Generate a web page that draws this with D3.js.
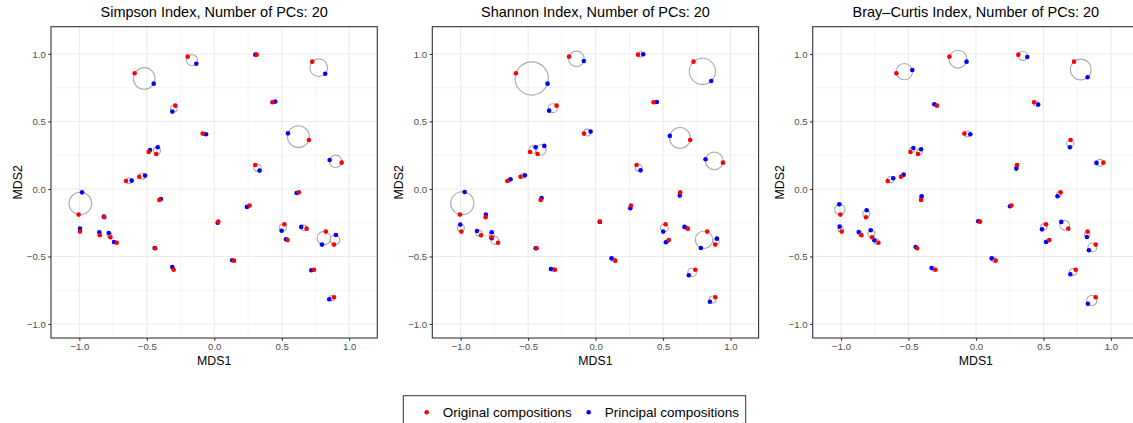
<!DOCTYPE html>
<html>
<head>
<meta charset="utf-8">
<script src="https://cdn.jsdelivr.net/npm/d3@7"></script>
<style>
  body { margin: 0; background: #fff; }
  svg { display: block; font-family: "Liberation Sans", Arial, sans-serif; }
</style>
</head>
<body>
<script>
var panelTitles = ["Simpson Index, Number of PCs: 20",
                   "Shannon Index, Number of PCs: 20",
                   "Bray\u2013Curtis Index, Number of PCs: 20"];

var xTicks = [-1.0, -0.5, 0.0, 0.5, 1.0];
var yTicks = [-1.0, -0.5, 0.0, 0.5, 1.0];
var minorTicks = [-0.75, -0.25, 0.25, 0.75];

// original compositions (same in every panel)
var original = [
  [-0.590, 0.857], [-0.197, 0.980], [0.314, 0.995], [0.726, 0.943], [-0.289, 0.617],
  [0.430, 0.642], [-0.086, 0.410], [0.701, 0.363], [0.944, 0.195], [-0.486, 0.274],
  [-0.430, 0.259], [0.304, 0.178], [-0.654, 0.059], [-0.556, 0.091], [0.627, -0.025],
  [-1.005, -0.190], [-0.815, -0.210], [-0.995, -0.316], [-0.849, -0.343], [-0.770, -0.358],
  [-0.723, -0.398], [-0.407, -0.081], [-0.437, -0.439], [-0.301, -0.598], [0.030, -0.242],
  [0.146, -0.531], [0.262, -0.123], [0.519, -0.262], [0.684, -0.294], [0.543, -0.378],
  [0.827, -0.316], [0.887, -0.412], [0.739, -0.598], [0.887, -0.802]
];

// principal compositions, one list per index
var simpson = [
  [-0.449, 0.780], [-0.133, 0.928], [0.304, 0.995], [0.822, 0.854], [-0.311, 0.573],
  [0.452, 0.647], [-0.061, 0.405], [0.546, 0.412], [0.855, 0.215], [-0.476, 0.289],
  [-0.419, 0.309], [0.336, 0.136], [-0.612, 0.062], [-0.513, 0.099], [0.610, -0.030],
  [-0.980, -0.025], [-0.818, -0.205], [-0.995, -0.294], [-0.852, -0.321], [-0.782, -0.326],
  [-0.743, -0.393], [-0.395, -0.074], [-0.442, -0.437], [-0.311, -0.578], [0.025, -0.250],
  [0.133, -0.528], [0.242, -0.133], [0.499, -0.309], [0.644, -0.281], [0.531, -0.373],
  [0.798, -0.412], [0.901, -0.341], [0.719, -0.602], [0.852, -0.817]
];

var shannon = [
  [-0.356, 0.780], [-0.087, 0.948], [0.353, 0.998], [0.857, 0.800], [-0.344, 0.580],
  [0.454, 0.644], [-0.037, 0.425], [0.550, 0.393], [0.815, 0.220], [-0.444, 0.309],
  [-0.380, 0.319], [0.333, 0.138], [-0.630, 0.072], [-0.524, 0.101], [0.624, -0.049],
  [-0.970, -0.022], [-0.813, -0.190], [-1.003, -0.264], [-0.879, -0.311], [-0.770, -0.321],
  [-0.770, -0.365], [-0.400, -0.067], [-0.444, -0.439], [-0.331, -0.593], [0.032, -0.244],
  [0.118, -0.514], [0.257, -0.143], [0.501, -0.316], [0.659, -0.281], [0.521, -0.395],
  [0.780, -0.437], [0.899, -0.368], [0.691, -0.639], [0.847, -0.835]
];

var brayCurtis = [
  [-0.472, 0.881], [-0.070, 0.943], [0.380, 0.978], [0.827, 0.827], [-0.309, 0.627],
  [0.461, 0.625], [-0.042, 0.405], [0.696, 0.309], [0.893, 0.193], [-0.464, 0.304],
  [-0.407, 0.294], [0.299, 0.151], [-0.613, 0.079], [-0.536, 0.106], [0.604, -0.054],
  [-1.013, -0.114], [-0.810, -0.158], [-1.010, -0.279], [-0.869, -0.319], [-0.780, -0.306],
  [-0.753, -0.380], [-0.403, -0.054], [-0.447, -0.430], [-0.329, -0.585], [0.017, -0.239],
  [0.116, -0.514], [0.252, -0.128], [0.489, -0.299], [0.632, -0.244], [0.519, -0.393],
  [0.822, -0.356], [0.837, -0.454], [0.699, -0.632], [0.829, -0.850]
];

var principal = [simpson, shannon, brayCurtis];
var legendLabels = ["Original compositions", "Principal compositions"];
var colors = ["#FF0000", "#0000FF"];

var width = 1133, height = 423;
var panelLeft = [51, 432.3, 812.7],
    panelTop = 26.7,
    panelW = 326.3,
    panelH = 311.3;

var svg = d3.select("body").append("svg")
    .attr("width", width)
    .attr("height", height);

var x = d3.scaleLinear().domain([-1.21, 1.208]).range([0, panelW]);
var y = d3.scaleLinear().domain([-1.104, 1.202]).range([panelH, 0]);
var fmt = d3.format(".1f");

panelTitles.forEach(function(title, p){
    var g = svg.append("g")
        .attr("transform", "translate(" + panelLeft[p] + "," + panelTop + ")");

    g.append("rect")
        .attr("width", panelW).attr("height", panelH)
        .attr("fill", "#fff");

    // grid
    g.selectAll(".minx").data(minorTicks).enter().append("line")
        .attr("x1", x).attr("x2", x).attr("y1", 0).attr("y2", panelH)
        .attr("stroke", "#EBEBEB").attr("stroke-width", 0.55);
    g.selectAll(".miny").data(minorTicks).enter().append("line")
        .attr("y1", y).attr("y2", y).attr("x1", 0).attr("x2", panelW)
        .attr("stroke", "#EBEBEB").attr("stroke-width", 0.55);
    g.selectAll(".majx").data(xTicks).enter().append("line")
        .attr("x1", x).attr("x2", x).attr("y1", 0).attr("y2", panelH)
        .attr("stroke", "#EBEBEB").attr("stroke-width", 1.1);
    g.selectAll(".majy").data(yTicks).enter().append("line")
        .attr("y1", y).attr("y2", y).attr("x1", 0).attr("x2", panelW)
        .attr("stroke", "#EBEBEB").attr("stroke-width", 1.1);

    var pairs = original.map(function(o, i){ return [o, principal[p][i]]; });

    // circles through each pair
    g.selectAll(".ring").data(pairs).enter().append("circle")
        .attr("cx", function(d){ return x((d[0][0] + d[1][0]) / 2); })
        .attr("cy", function(d){ return y((d[0][1] + d[1][1]) / 2); })
        .attr("r", function(d){
            var dx = x(d[0][0]) - x(d[1][0]), dy = y(d[0][1]) - y(d[1][1]);
            return Math.sqrt(dx * dx + dy * dy) / 2;
        })
        .attr("fill", "none")
        .attr("stroke", "#AAAAAA")
        .attr("stroke-width", 1.1);

    g.selectAll(".pc").data(principal[p]).enter().append("circle")
        .attr("cx", function(d){ return x(d[0]); })
        .attr("cy", function(d){ return y(d[1]); })
        .attr("r", 2.3)
        .attr("fill", colors[1]);

    g.selectAll(".oc").data(original).enter().append("circle")
        .attr("cx", function(d){ return x(d[0]); })
        .attr("cy", function(d){ return y(d[1]); })
        .attr("r", 2.3)
        .attr("fill", colors[0]);

    g.append("rect")
        .attr("width", panelW).attr("height", panelH)
        .attr("fill", "none")
        .attr("stroke", "#333333")
        .attr("stroke-width", 1.1);

    // axes
    var xAxis = g.append("g")
        .attr("transform", "translate(0," + panelH + ")")
        .call(d3.axisBottom(x).tickValues(xTicks).tickFormat(fmt).tickSize(2.7).tickPadding(2.5));
    var yAxis = g.append("g")
        .call(d3.axisLeft(y).tickValues(yTicks).tickFormat(fmt).tickSize(2.7).tickPadding(2.5));
    [xAxis, yAxis].forEach(function(a){
        a.select(".domain").remove();
        a.selectAll(".tick line").attr("stroke", "#333333").attr("stroke-width", 1.1);
        a.selectAll(".tick text")
            .attr("fill", "#4D4D4D")
            .style("font-size", "9.6px")
            .style("font-family", "'Liberation Sans', Arial, sans-serif")
            .text(function(d){ return fmt(d).replace("-", "\u2212"); });
    });

    g.append("text")
        .attr("x", panelW / 2).attr("y", -9.5)
        .attr("text-anchor", "middle")
        .style("font-size", "14.5px")
        .text(title);

    g.append("text")
        .attr("x", panelW / 2).attr("y", panelH + 27.5)
        .attr("text-anchor", "middle")
        .style("font-size", "12.3px")
        .text("MDS1");

    g.append("text")
        .attr("transform", "translate(-29," + (panelH / 2) + ") rotate(-90)")
        .attr("text-anchor", "middle")
        .style("font-size", "12.3px")
        .text("MDS2");
});

// legend
var legend = svg.append("g");
legend.append("rect")
    .attr("x", 403.3).attr("y", 395.7)
    .attr("width", 342.4).attr("height", 40)
    .attr("fill", "#fff")
    .attr("stroke", "#333333")
    .attr("stroke-width", 1);

var keyX = [426.7, 588.7];
legendLabels.forEach(function(label, i){
    legend.append("circle")
        .attr("cx", keyX[i]).attr("cy", 412.3)
        .attr("r", 2.3)
        .attr("fill", colors[i]);
    legend.append("text")
        .attr("x", keyX[i] + 16).attr("y", 417)
        .style("font-size", "13.5px")
        .text(label);
});
</script>
</body>
</html>
